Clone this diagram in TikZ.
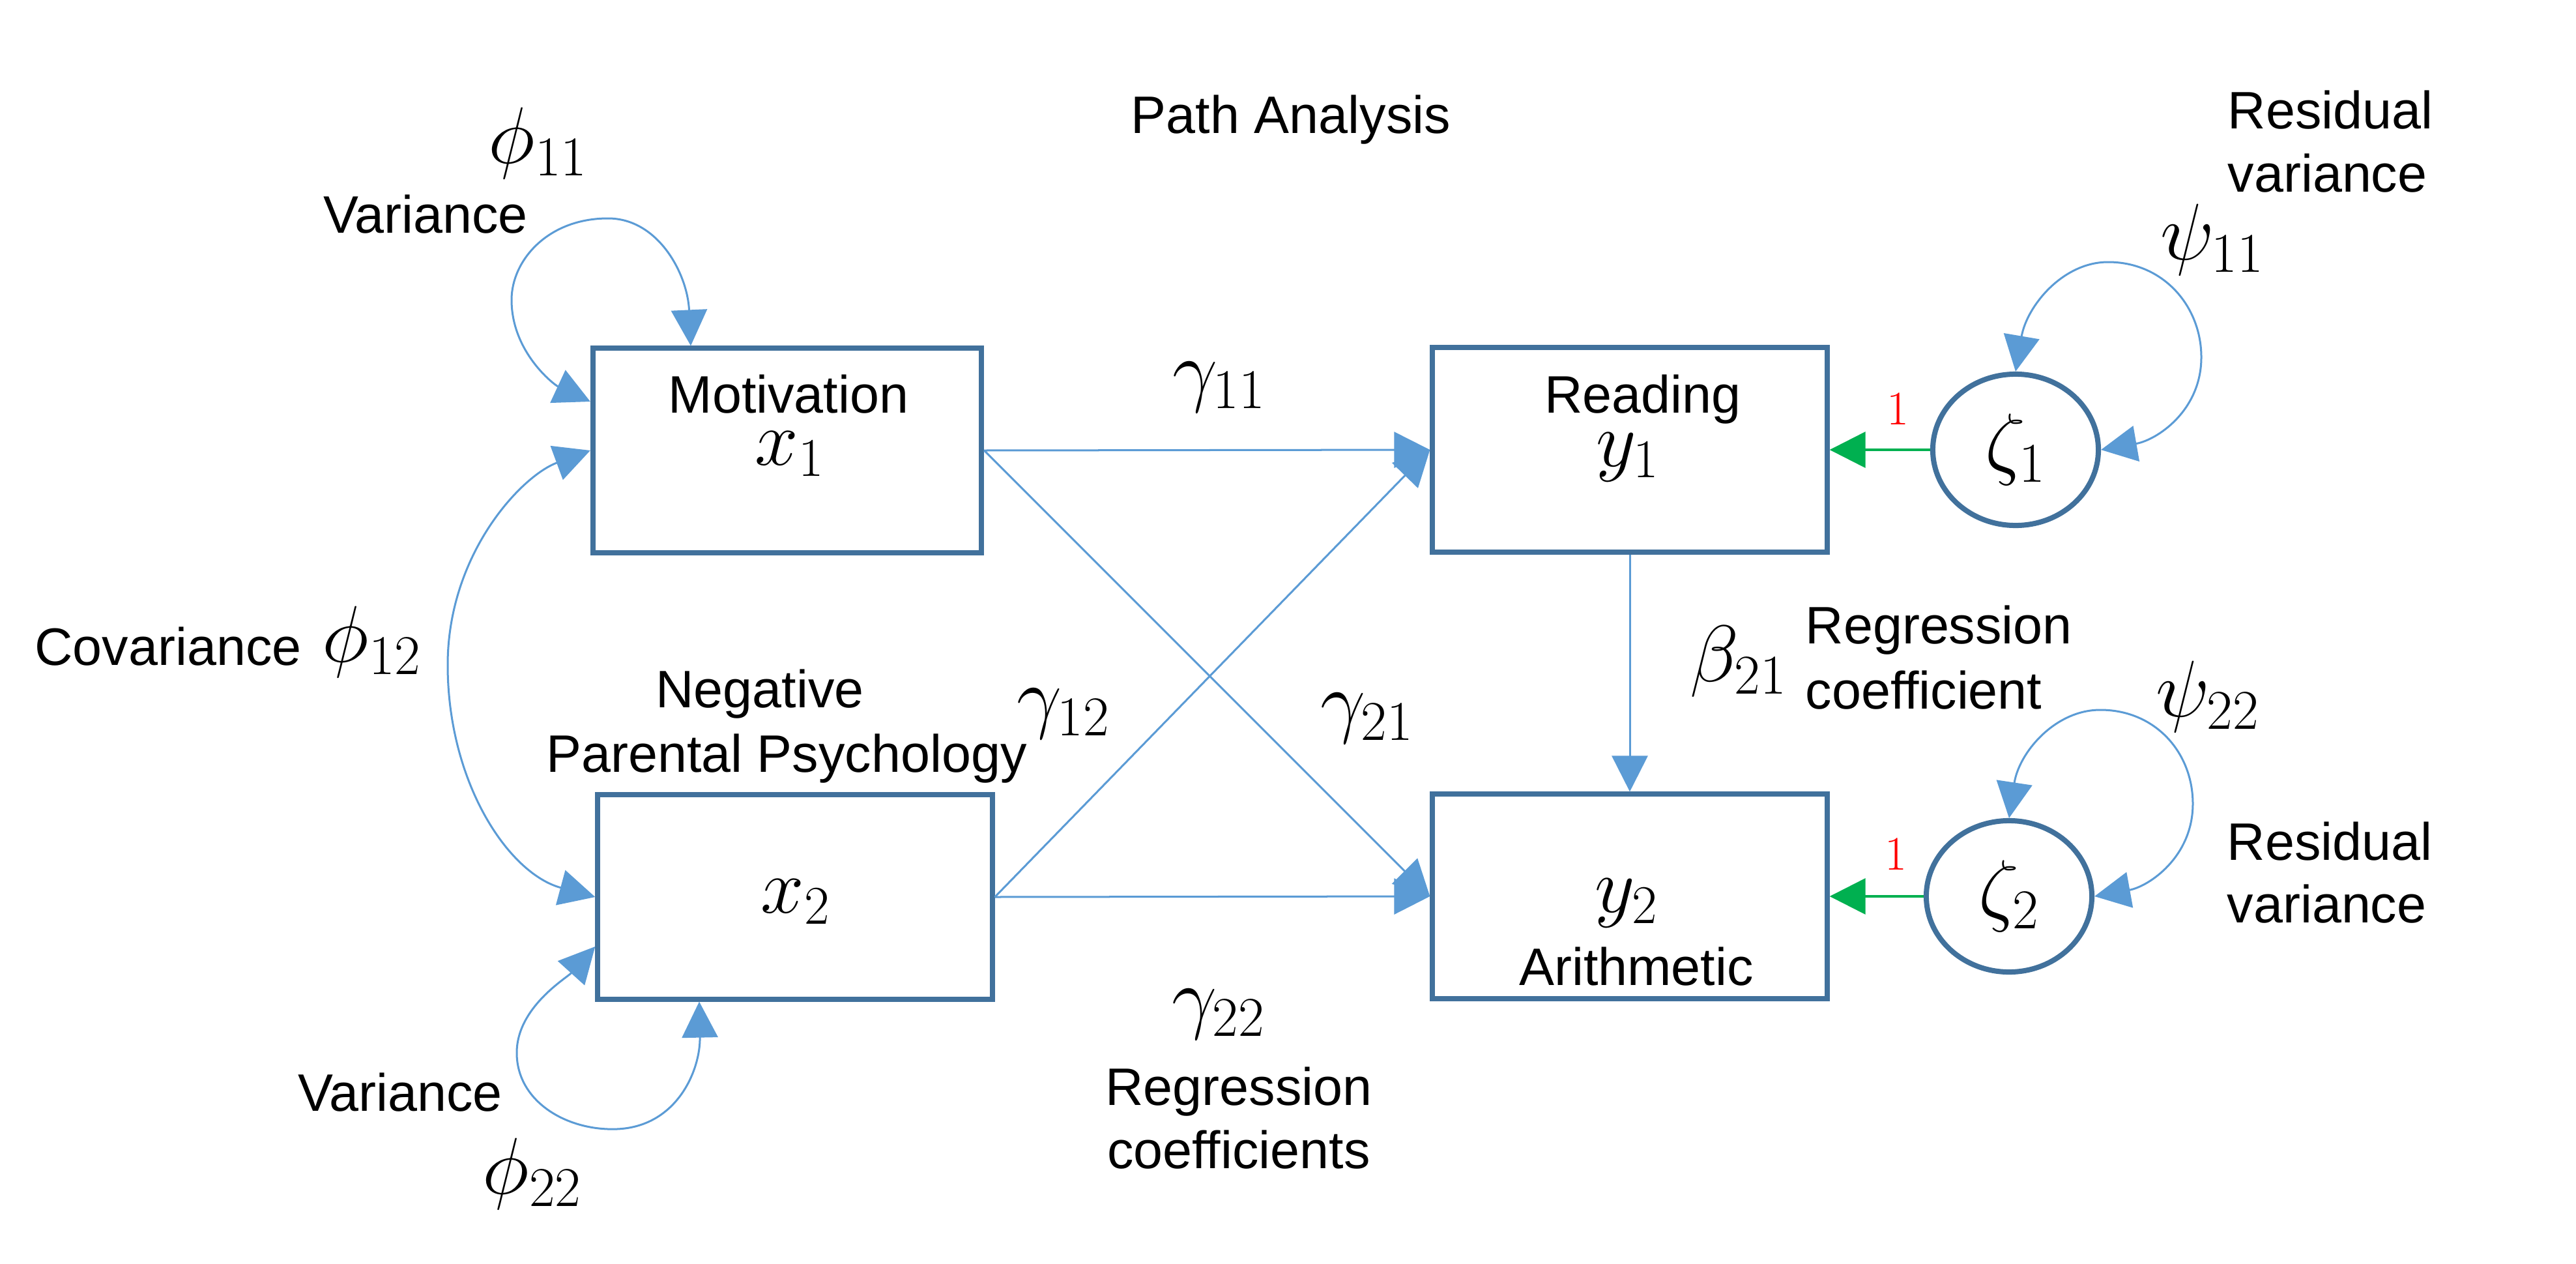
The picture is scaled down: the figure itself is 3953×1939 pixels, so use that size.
\RequirePackage{fix-cm}
\documentclass[tikz,border=0pt]{standalone}
\usepackage[no-math]{fontspec}
\setmainfont{Liberation Sans}
\usetikzlibrary{arrows.meta,shapes.geometric,calc}
\definecolor{boxblue}{HTML}{41719C}
\definecolor{arrblue}{HTML}{5B9BD5}
\definecolor{grn}{HTML}{00B050}
\begin{document}
\begin{tikzpicture}[x=0.01cm,y=-0.01cm,
  txt/.style={font=\fontsize{23}{27}\selectfont, inner sep=0pt, anchor=base},
  txtw/.style={font=\fontsize{23}{27}\selectfont, inner sep=0pt, anchor=base west},
  mth/.style={font=\fontsize{35}{38}\selectfont, inner sep=0pt},
  mthb/.style={font=\fontsize{34}{38}\selectfont, inner sep=0pt, anchor=base},
  vbox/.style={draw=boxblue, line width=0.08cm, minimum width=6.05cm, minimum height=3.13cm, inner sep=0pt},
  lat/.style={ellipse, draw=boxblue, line width=0.08cm, minimum width=2.54cm, minimum height=2.32cm, inner sep=0pt, font=\fontsize{35}{38}\selectfont},
  conn/.style={draw=arrblue, line width=0.03cm, -{Triangle[length=0.55cm,width=0.55cm]}},
  dbl/.style={draw=arrblue, line width=0.03cm, {Triangle[length=0.55cm,width=0.55cm]}-{Triangle[length=0.55cm,width=0.55cm]}},
  fixed/.style={draw=grn, line width=0.035cm, -{Triangle[length=0.55cm,width=0.55cm]}},
  one/.style={text=red, font=\fontsize{21}{24}\selectfont, inner sep=0pt}
]
\useasboundingbox[fill=white] (0,0) rectangle (3953,1939);

% title
\node[txt] (title) at (1981,204) {Path Analysis};

% boxes
\node[vbox, minimum width=5.96cm] (x1) at (1208,691) {};
\node[vbox] (x2) at (1220,1376) {};
\node[vbox] (y1) at (2501,690) {};
\node[vbox] (y2) at (2501,1375) {};
\node[lat] (z1) at (3093,690) {$\zeta_1$};
\node[lat] (z2) at (3083,1375) {$\zeta_2$};

% box texts
\node[txt] (tmot) at (1210,633) {Motivation};
\node[mthb] (tx1) at (1212,713) {$x_1$};
\node[txt] (tneg) at (1166,1085) {Negative};
\node[txt] (tpar) at (1207,1184) {Parental Psychology};
\node[mthb] (tx2) at (1221,1400) {$x_2$};
\node[txt] (tread) at (2521,633) {Reading};
\node[mthb] (ty1) at (2498,715) {$y_1$};
\node[mthb] (ty2) at (2496,1399) {$y_2$};
\node[txt] (tari) at (2511,1511) {Arithmetic};

% labels
\node[mth] (phi11) at (826,220) {$\phi_{11}$};
\node[txt] (var1) at (653,357) {Variance};
\node[txt] (cov) at (258,1020) {Covariance};
\node[mth] (phi12) at (571,985) {$\phi_{12}$};
\node[txt] (var2) at (614,1704) {Variance};
\node[mth] (phi22) at (817,1801) {$\phi_{22}$};
\node[mth] (g11) at (1871,594) {$\gamma_{11}$};
\node[mth] (g12) at (1632,1095) {$\gamma_{12}$};
\node[mth] (g21) at (2098,1102) {$\gamma_{21}$};
\node[mth] (g22) at (1870,1556) {$\gamma_{22}$};
\node[txt] (reg2a) at (1901,1695) {Regression};
\node[txt] (reg2b) at (1901,1792) {coefficients};
\node[mth] (b21) at (2668,1015) {$\beta_{21}$};
\node[txtw] (reg1a) at (2770,987) {Regression};
\node[txtw] (reg1b) at (2770,1087) {coefficient};
\node[mth] (psi11) at (3395,368) {$\psi_{11}$};
\node[txtw] (res1a) at (3418,197) {Residual};
\node[txtw] (res1b) at (3418,294) {variance};
\node[mth] (psi22) at (3388,1069) {$\psi_{22}$};
\node[txtw] (res2a) at (3417,1319) {Residual};
\node[txtw] (res2b) at (3417,1415) {variance};
\node[one] (one1) at (2912,628) {$1$};
\node[one] (one2) at (2909,1311) {$1$};

% regression paths
\draw[conn] (x1.east) -- (y1.west);
\draw[conn] (x1.east) -- (y2.west);
\draw[conn] (x2.east) -- (y1.west);
\draw[conn] (x2.east) -- (y2.west);
\draw[conn] (y1.south) -- (y2.north);

% fixed loadings
\draw[fixed] (z1.west) -- (y1.east);
\draw[fixed] (z2.west) -- (y2.east);

% covariance
\draw[dbl] (x1.west) .. controls (800,730) and (687,850) .. (687,1020)
  .. controls (687,1200) and (780,1340) .. (x2.west);

% variance loops
\draw[dbl] ($(x1.north)+(-148,0)$) .. controls (1055,420) and (1010,335) .. (933,335)
  .. controls (840,335) and (785,400) .. (785,460)
  .. controls (785,540) and (850,590) .. ($(x1.west)+(0,-75)$);
\draw[dbl] ($(x2.west)+(0,76)$) .. controls (870,1500) and (793,1545) .. (793,1615)
  .. controls (793,1690) and (870,1735) .. (947,1732)
  .. controls (1040,1728) and (1075,1640) .. ($(x2.south)+(-147,0)$);
\draw[dbl] (z1.north) .. controls (3110,470) and (3165,402) .. (3235,402)
  .. controls (3320,402) and (3378,470) .. (3378,548)
  .. controls (3378,630) and (3310,675) .. (z1.east);
\draw[dbl] (z2.north) .. controls (3098,1155) and (3153,1089) .. (3223,1089)
  .. controls (3308,1089) and (3365,1155) .. (3365,1233)
  .. controls (3365,1315) and (3297,1360) .. (z2.east);
\end{tikzpicture}
\end{document}
